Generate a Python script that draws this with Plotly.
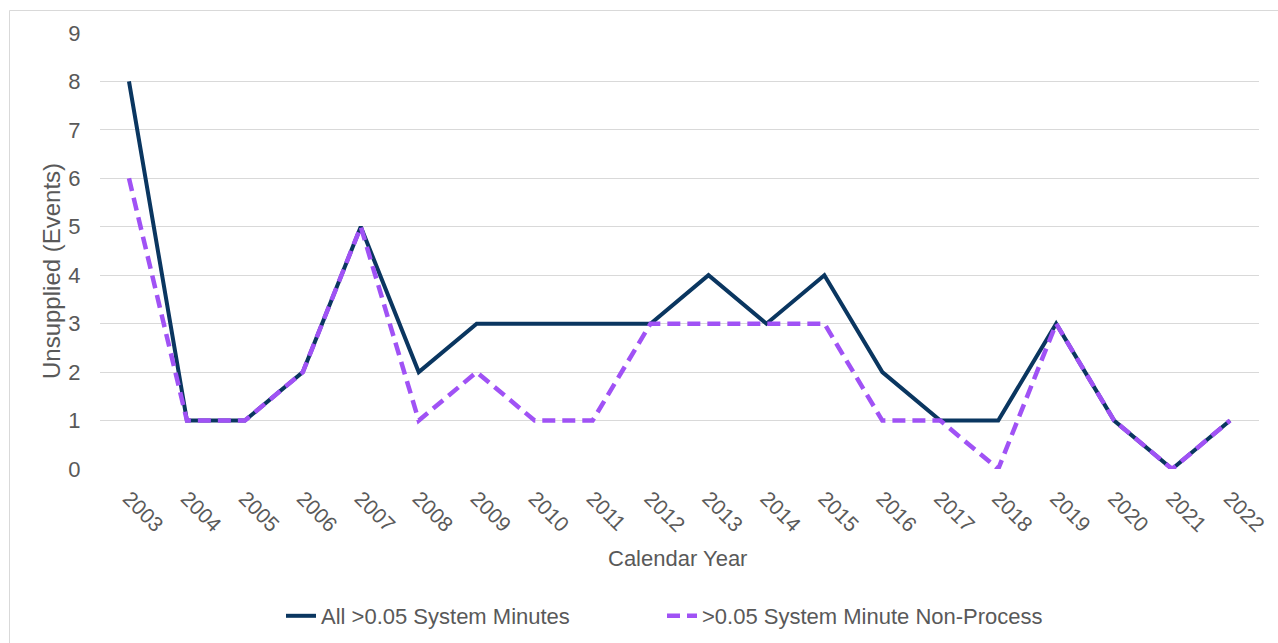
import plotly.graph_objects as go

# Calendar years on the category axis
years = [str(y) for y in range(2003, 2023)]

# Unsupplied events per year
all_events = [8, 1, 1, 2, 5, 2, 3, 3, 3, 3, 4, 3, 4, 2, 1, 1, 3, 1, 0, 1]
non_process_events = [6, 1, 1, 2, 5, 1, 2, 1, 1, 3, 3, 3, 3, 1, 1, 0, 3, 1, 0, 1]

y_ticks = list(range(0, 10))

NAVY = "#0A3660"
PURPLE = "#A052F5"
TEXT = "#595959"
GRID = "#D9D9D9"
FONT = "Liberation Sans, Arial, sans-serif"

W, H = 1278, 643
L, R, T, B = 100, 19, 33, 174
pw, ph = W - L - R, H - T - B


def px_x(x):
    return (x - L) / pw


def px_y(y):
    return (H - B - y) / ph


fig = go.Figure()
fig.add_trace(go.Scatter(
    x=years, y=all_events, mode="lines",
    name="All >0.05 System Minutes",
    line=dict(color=NAVY, width=4),
))
fig.add_trace(go.Scatter(
    x=years, y=non_process_events, mode="lines",
    name=">0.05 System Minute Non-Process",
    line=dict(color=PURPLE, width=4.5, dash="13px,7px"),
))

fig.update_layout(
    width=W, height=H,
    margin=dict(l=L, r=R, t=T, b=B, autoexpand=False),
    paper_bgcolor="white", plot_bgcolor="white",
    font=dict(family=FONT, color=TEXT, size=22),
    showlegend=True,
    legend=dict(
        orientation="h", xanchor="center", yanchor="middle",
        x=px_x(662), y=px_y(616),
        font=dict(size=22, color=TEXT),
        entrywidth=336, entrywidthmode="pixels",
    ),
    xaxis=dict(
        type="category", tickangle=45, range=[-0.5, len(years) - 0.5],
        automargin=False,
        showgrid=False, showline=False, zeroline=False,
        ticks="outside", ticklen=8, tickcolor="rgba(0,0,0,0)",
        tickfont=dict(size=21, color=TEXT),
    ),
    yaxis=dict(
        range=[0, 9], tickvals=y_ticks, automargin=False,
        showgrid=True, gridcolor=GRID, gridwidth=1,
        zeroline=False, showline=False,
        ticks="outside", ticklen=14, tickcolor="rgba(0,0,0,0)",
        tickfont=dict(size=22, color=TEXT),
    ),
    annotations=[
        dict(text="Unsupplied (Events)", xref="paper", yref="paper",
             x=px_x(51), y=px_y(271), textangle=-90, showarrow=False,
             xanchor="center", yanchor="middle",
             font=dict(size=24, color=TEXT)),
        dict(text="Calendar Year", xref="paper", yref="paper",
             x=px_x(677), y=px_y(558), showarrow=False,
             xanchor="center", yanchor="middle",
             font=dict(size=22, color=TEXT)),
    ],
    shapes=[
        dict(type="rect", xref="paper", yref="paper",
             x0=px_x(9.5), x1=px_x(1300), y0=px_y(700), y1=px_y(10.5),
             line=dict(color="#D9D9D9", width=1), layer="below"),
    ],
)

fig.write_html("out.html")
